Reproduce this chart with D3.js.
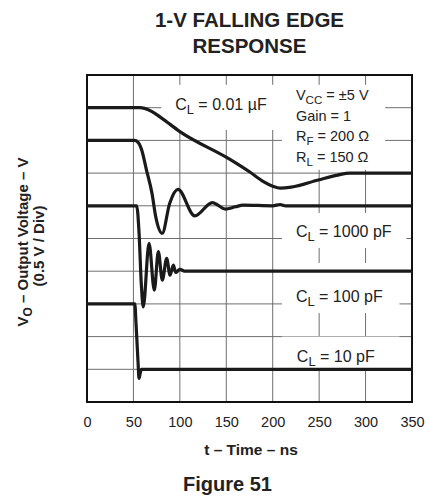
<!DOCTYPE html>
<html>
<head>
<meta charset="utf-8">
<script src="https://cdn.jsdelivr.net/npm/d3@7"></script>
<style>
    body { margin: 0; background: #fff; }
    svg { display: block; font-family: "Liberation Sans", Arial, Helvetica, sans-serif; }
</style>
</head>
<body>
<div id="chart"></div>
<script>
// time axis (ns) and vertical divisions (0.5 V / div)
const timeTicks = [0, 50, 100, 150, 200, 250, 300, 350];
const divTicks = [0, 1, 2, 3, 4, 5, 6, 7, 8, 9, 10];

// C_L = 0.01 uF trace
const t001 = [0, 57, 62, 70, 80, 100, 154, 175, 190, 200, 208, 220, 249, 270, 283, 350];
const v001 = [9, 9, 8.98, 8.88, 8.69, 8.27, 7.42, 7.04, 6.74, 6.6, 6.54, 6.57, 6.79, 6.94, 7.0, 7.0];

// C_L = 1000 pF trace
const t1000 = [0, 51, 55, 59, 64, 70, 74, 81, 89, 98, 116, 135, 149, 160, 168, 200, 208, 214, 350];
const v1000 = [8, 8, 7.94, 7.7, 7.1, 6.38, 5.67, 5.16, 6.07, 6.5, 5.69, 6.1, 5.9, 5.97, 6.02, 6.0, 6.04, 6.0, 6.0];

// C_L = 100 pF trace
const t100 = [0, 53.5, 56, 58.5, 60.6, 66.8, 72.5, 76.8, 81.1, 85.8, 89.4, 93, 95.5, 100, 105, 350];
const v100 = [6, 6, 5.2, 3.6, 2.91, 4.85, 3.42, 4.6, 3.73, 4.39, 3.88, 4.19, 3.96, 4.06, 4.0, 4.0];

// C_L = 10 pF trace
const t10 = [0, 51.5, 52.8, 55, 56, 57.3, 58.5, 62, 350];
const v10 = [3, 3, 2.4, 1.2, 0.72, 0.88, 1.0, 1.0, 1.0];

// label text: [main, subscript, rest]
const traceLabels = [
    ["C", "L", " = 0.01 \u00b5F"],
    ["C", "L", " = 1000 pF"],
    ["C", "L", " = 100 pF"],
    ["C", "L", " = 10 pF"]
];
const conditionLabels = [
    ["V", "CC", " = \u00b15 V"],
    ["Gain = 1", "", ""],
    ["R", "F", " = 200 \u03a9"],
    ["R", "L", " = 150 \u03a9"]
];

function drawGraph() {
    var W = 430, H = 498;
    var margin = { left: 87, right: 18, top: 75, bottom: 96 };

    var svg = d3.select("#chart")
        .append("svg")
        .attr("width", W)
        .attr("height", H);

    var x = d3.scaleLinear().domain([0, 350]).range([margin.left, W - margin.right]);
    var y = d3.scaleLinear().domain([0, 10]).range([H - margin.bottom, margin.top]);

    // title
    svg.append("text")
        .attr("x", 249.5).attr("y", 27)
        .attr("text-anchor", "middle")
        .style("font-size", "20.5px").style("font-weight", "bold").style("fill", "#222")
        .text("1-V FALLING EDGE");
    svg.append("text")
        .attr("x", 249.5).attr("y", 53)
        .attr("text-anchor", "middle")
        .style("font-size", "20.5px").style("font-weight", "bold").style("fill", "#222")
        .text("RESPONSE");

    // grid
    svg.append("g")
        .selectAll("line")
        .data(timeTicks.slice(1, -1))
        .enter()
        .append("line")
        .attr("x1", d => x(d)).attr("x2", d => x(d))
        .attr("y1", y(0)).attr("y2", y(10))
        .attr("stroke", "#6e6e6e").attr("stroke-width", 1);
    svg.append("g")
        .selectAll("line")
        .data(divTicks.slice(1, -1))
        .enter()
        .append("line")
        .attr("x1", x(0)).attr("x2", x(350))
        .attr("y1", d => y(d)).attr("y2", d => y(d))
        .attr("stroke", "#6e6e6e").attr("stroke-width", 1);

    // white areas behind the labels (t0, t1, d0, d1)
    var masks = [
        [80, 210, 9.7, 8.32],
        [210, 321, 9.7, 7.1],
        [210, 344, 5.78, 4.71],
        [210, 336.5, 4.25, 2.72],
        [210, 336.5, 2.0, 0.98]
    ];
    svg.append("g")
        .selectAll("rect")
        .data(masks)
        .enter()
        .append("rect")
        .attr("x", d => x(d[0]))
        .attr("width", d => x(d[1]) - x(d[0]))
        .attr("y", d => y(d[2]))
        .attr("height", d => y(d[3]) - y(d[2]))
        .attr("fill", "#fff");

    // frame
    svg.append("rect")
        .attr("x", x(0)).attr("y", y(10))
        .attr("width", x(350) - x(0)).attr("height", y(0) - y(10))
        .attr("fill", "none").attr("stroke", "#111").attr("stroke-width", 2);

    // traces
    var line = d3.line()
        .x(d => x(d[0]))
        .y(d => y(d[1]))
        .curve(d3.curveMonotoneX);
    var traces = [
        d3.zip(t001, v001),
        d3.zip(t1000, v1000),
        d3.zip(t100, v100),
        d3.zip(t10, v10)
    ];
    svg.append("g")
        .selectAll("path")
        .data(traces)
        .enter()
        .append("path")
        .attr("d", line)
        .attr("fill", "none")
        .attr("stroke", "#1a1a1a")
        .attr("stroke-width", 3.2)
        .attr("stroke-linejoin", "round");

    function subText(g, parts, px, py, size) {
        var t = g.append("text")
            .attr("x", px).attr("y", py)
            .style("font-size", size + "px").style("fill", "#222");
        t.append("tspan").text(parts[0]);
        if (parts[1]) {
            t.append("tspan")
                .attr("dy", 4)
                .style("font-size", (size * 0.8) + "px")
                .text(parts[1]);
            t.append("tspan").attr("dy", -4).text(parts[2]);
        }
    }

    var labels = svg.append("g");
    // trace labels at (t, div)
    var traceAt = [[95, 8.93], [225, 5.06], [225, 3.07], [226, 1.21]];
    traceLabels.forEach(function(p, i) {
        subText(labels, p, x(traceAt[i][0]), y(traceAt[i][1]), 16);
    });
    var condAt = [9.24, 8.6, 7.97, 7.34];
    conditionLabels.forEach(function(p, i) {
        subText(labels, p, x(225), y(condAt[i]), 14.5);
    });

    // x axis
    var xAxis = d3.axisBottom(x).tickValues(timeTicks).tickSize(0).tickPadding(0);
    var gx = svg.append("g")
        .attr("transform", "translate(0," + (y(0) + 24.5) + ")")
        .call(xAxis);
    gx.select(".domain").remove();
    gx.selectAll("text")
        .attr("dy", 0)
        .style("font-size", "14.5px")
        .style("font-family", "\"Liberation Sans\", Arial, sans-serif")
        .style("fill", "#222");

    svg.append("text")
        .attr("x", 251).attr("y", 455)
        .attr("text-anchor", "middle")
        .style("font-size", "15.5px").style("font-weight", "bold").style("fill", "#222")
        .text("t \u2013 Time \u2013 ns");

    // y axis title
    var yl = svg.append("text")
        .attr("transform", "translate(28,242) rotate(-90)")
        .attr("text-anchor", "middle")
        .style("font-size", "15px").style("font-weight", "bold").style("fill", "#222");
    yl.append("tspan").text("V");
    yl.append("tspan").attr("dy", 4).style("font-size", "12px").text("O");
    yl.append("tspan").attr("dy", -4).text(" \u2013 Output Voltage \u2013 V");
    svg.append("text")
        .attr("transform", "translate(44,246) rotate(-90)")
        .attr("text-anchor", "middle")
        .style("font-size", "15px").style("font-weight", "bold").style("fill", "#222")
        .text("(0.5 V / Div)");

    svg.append("text")
        .attr("x", 227.5).attr("y", 491)
        .attr("text-anchor", "middle")
        .style("font-size", "20px").style("font-weight", "bold").style("fill", "#222")
        .text("Figure 51");
}
drawGraph();
</script>
</body>
</html>
